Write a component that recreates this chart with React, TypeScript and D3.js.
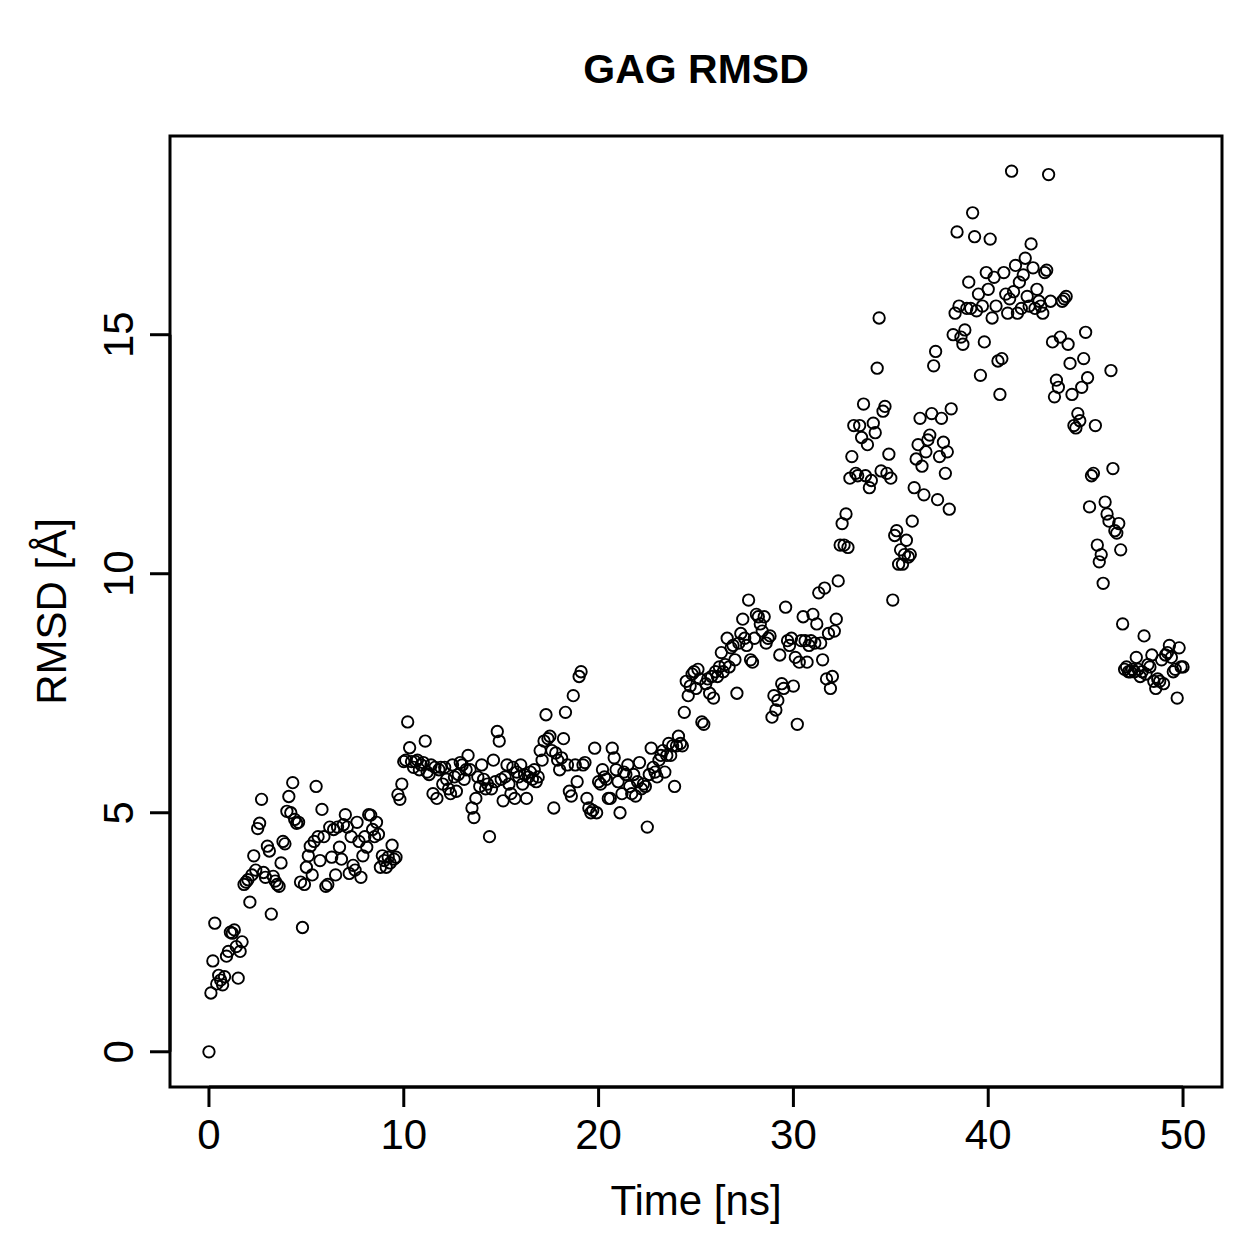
import React, { useEffect, useRef } from 'react';
import { select, scaleLinear, extent } from 'd3';

// RMSD samples, one row per ns (0.1 ns spacing)
const rmsd: number[] = [
    0, 1.23, 1.9, 2.69, 1.42, 1.6, 1.5, 1.4, 1.57, 2.0,
    2.1, 2.5, 2.48, 2.55, 2.2, 1.54, 2.1, 2.3, 3.5, 3.55,
    3.6, 3.13, 3.7, 4.1, 3.8, 4.67, 4.78, 5.28, 3.75, 3.65,
    4.3, 4.2, 2.88, 3.67, 3.57, 3.5, 3.46, 3.95, 4.4, 4.35,
    5.03, 5.34, 5.0, 5.63, 4.86, 4.78, 4.8, 3.55, 2.6, 3.5,
    3.86, 4.1, 4.3, 3.7, 4.4, 5.55, 4.5, 4.0, 5.07, 4.5,
    3.46, 3.5, 4.7, 4.07, 4.65, 3.7, 4.7, 4.28, 4.03, 4.75,
    4.96, 4.7, 3.73, 4.5, 3.9, 3.8, 4.8, 4.4, 3.65, 4.1,
    4.5, 4.28, 4.96, 4.95, 4.65, 4.5, 4.8, 4.55, 3.86, 4.1,
    4.0, 3.86, 4.07, 3.95, 4.32, 4.03, 4.07, 5.38, 5.28, 5.6,
    6.07, 6.1, 6.9, 6.36, 6.07, 5.95, 6.07, 6.1, 5.9, 6.0,
    6.05, 6.5, 5.85, 5.8, 6.0, 5.4, 5.95, 5.3, 5.9, 5.95,
    5.6, 5.95, 5.7, 5.5, 5.4, 6.0, 5.75, 5.45, 5.8, 6.05,
    6.0, 5.7, 5.9, 6.2, 5.9, 5.1, 4.9, 5.3, 5.75, 5.55,
    6.0, 5.7, 5.5, 5.6, 4.5, 5.5, 6.1, 5.65, 6.7, 6.5,
    5.7, 5.25, 5.75, 6.0, 5.6, 5.4, 5.95, 5.3, 5.85, 5.75,
    6.0, 5.6, 5.8, 5.3, 5.75, 5.85, 5.7, 5.9, 5.65, 5.75,
    6.3, 6.1, 6.5, 7.05, 6.55, 6.6, 6.3, 5.1, 6.25, 6.1,
    5.9, 6.15, 6.55, 7.1, 6.0, 5.45, 5.35, 7.45, 6.0, 5.65,
    7.85, 7.95, 6.0, 6.05, 5.3, 5.1, 5.0, 5.05, 6.35, 5.0,
    5.65, 5.6, 5.9, 5.75, 5.7, 5.3, 5.3, 6.35, 6.15, 5.9,
    5.65, 5.0, 5.4, 5.85, 5.8, 6.0, 5.55, 5.4, 5.8, 5.35,
    5.65, 6.05, 5.5, 5.6, 5.55, 4.7, 5.8, 6.35, 5.95, 5.85,
    5.75, 6.1, 6.2, 6.3, 5.85, 6.2, 6.45, 6.2, 6.4, 5.55,
    6.4, 6.6, 6.45, 6.4, 7.1, 7.75, 7.45, 7.65, 7.9, 7.95,
    7.6, 8.0, 7.8, 6.9, 6.85, 7.7, 7.8, 7.5, 7.85, 7.4,
    7.95, 7.85, 8.05, 8.35, 7.95, 8.1, 8.65, 8.05, 8.45, 8.5,
    8.2, 7.5, 8.55, 8.75, 9.05, 8.65, 8.5, 9.45, 8.2, 8.15,
    8.65, 9.15, 9.1, 8.95, 8.8, 9.1, 8.55, 8.65, 8.7, 7.0,
    7.45, 7.15, 7.35, 8.3, 7.7, 7.6, 9.3, 8.6, 8.5, 8.65,
    7.65, 8.25, 6.85, 8.15, 8.6, 9.1, 8.6, 8.15, 8.5, 8.6,
    9.15, 8.55, 8.95, 9.6, 8.55, 8.2, 9.7, 7.8, 8.75, 7.6,
    7.85, 8.8, 9.05, 9.85, 10.6, 11.05, 10.6, 11.25, 10.55, 12.0,
    12.45, 13.1, 12.1, 12.05, 13.1, 12.85, 13.55, 12.05, 12.7, 11.8,
    11.95, 13.15, 12.95, 14.3, 15.35, 12.15, 13.4, 13.5, 12.1, 12.5,
    12.0, 9.45, 10.8, 10.9, 10.2, 10.5, 10.2, 10.4, 10.7, 10.35,
    10.4, 11.1, 11.8, 12.4, 12.7, 13.25, 12.25, 11.65, 12.55, 12.8,
    12.9, 13.35, 14.35, 14.65, 11.55, 12.45, 13.25, 12.75, 12.1, 12.55,
    11.35, 13.45, 15.0, 15.45, 17.15, 15.6, 14.95, 14.8, 15.1, 15.55,
    16.1, 15.55, 17.55, 17.05, 15.5, 15.85, 14.15, 15.6, 14.85, 16.3,
    15.95, 17.0, 15.35, 16.2, 15.6, 14.45, 13.75, 14.5, 16.3, 15.85,
    15.45, 15.75, 18.42, 15.9, 16.45, 15.45, 16.1, 15.55, 16.25, 16.6,
    15.8, 15.6, 16.9, 16.4, 15.55, 15.95, 15.7, 15.6, 15.45, 16.3,
    16.35, 18.35, 15.7, 14.85, 13.7, 14.05, 13.9, 14.95, 15.7, 15.75,
    15.8, 14.8, 14.4, 13.75, 13.1, 13.05, 13.35, 13.2, 13.9, 14.5,
    15.05, 14.1, 11.4, 12.05, 12.1, 13.1, 10.6, 10.25, 10.4, 9.8,
    11.5, 11.25, 11.1, 14.25, 12.2, 10.9, 10.85, 11.05, 10.5, 8.95,
    8.0, 8.05, 7.95, 7.95, 8.0, 7.95, 8.25, 8.0, 7.85, 7.95,
    8.7, 7.9, 8.1, 8.05, 8.3, 7.75, 7.6, 7.8, 7.75, 8.2,
    7.7, 8.3, 8.35, 8.5, 8.25, 7.95, 8.0, 7.4, 8.45, 8.05,
    8.05,
];
const timeStep = 0.1; // ns between frames
const xTicks = [0, 10, 20, 30, 40, 50];
const yTicks = [0, 5, 10, 15];
const title = 'GAG RMSD';
const xLabel = 'Time [ns]';
const yLabel = 'RMSD [Å]';

const W = 1259;
const H = 1259;
const FONT = '"Liberation Sans", Arial, Helvetica, sans-serif';

const App = () => {
    const ref = useRef<SVGSVGElement>(null);

    useEffect(() => {
        const svg = select(ref.current);
        svg.selectAll('*').remove();

        const box = { left: 170, right: 1222, top: 136, bottom: 1087 };
        const data = rmsd.map((v, i) => ({ t: i * timeStep, v }));

        // R style: pad range by 4% on both sides
        const pad = (lo: number, hi: number) => {
            const r = hi - lo;
            return [lo - 0.04 * r, hi + 0.04 * r];
        };
        const [tMin, tMax] = extent(data, d => d.t) as [number, number];
        const [vMin, vMax] = extent(data, d => d.v) as [number, number];

        const x = scaleLinear().domain(pad(tMin, tMax)).range([box.left, box.right]);
        const y = scaleLinear().domain(pad(vMin, vMax)).range([box.bottom, box.top]);

        // points
        svg.append('g')
            .selectAll('circle')
            .data(data)
            .enter()
            .append('circle')
            .attr('cx', d => x(d.t))
            .attr('cy', d => y(d.v))
            .attr('r', 5.7)
            .attr('fill', 'none')
            .attr('stroke', '#000')
            .attr('stroke-width', 1.9);

        // frame
        svg.append('rect')
            .attr('x', box.left)
            .attr('y', box.top)
            .attr('width', box.right - box.left)
            .attr('height', box.bottom - box.top)
            .attr('fill', 'none')
            .attr('stroke', '#000')
            .attr('stroke-width', 3);

        // x axis
        const gx = svg.append('g');
        gx.append('line')
            .attr('x1', x(xTicks[0])).attr('x2', x(xTicks[xTicks.length - 1]))
            .attr('y1', box.bottom).attr('y2', box.bottom)
            .attr('stroke', '#000').attr('stroke-width', 3);
        gx.selectAll('.tick')
            .data(xTicks)
            .enter()
            .append('line')
            .attr('x1', d => x(d)).attr('x2', d => x(d))
            .attr('y1', box.bottom).attr('y2', box.bottom + 20)
            .attr('stroke', '#000').attr('stroke-width', 3);
        gx.selectAll('text')
            .data(xTicks)
            .enter()
            .append('text')
            .attr('x', d => x(d))
            .attr('y', 1149)
            .attr('text-anchor', 'middle')
            .attr('font-family', FONT)
            .attr('font-size', 42)
            .text(d => d);

        // y axis
        const gy = svg.append('g');
        gy.append('line')
            .attr('x1', box.left).attr('x2', box.left)
            .attr('y1', y(yTicks[0])).attr('y2', y(yTicks[yTicks.length - 1]))
            .attr('stroke', '#000').attr('stroke-width', 3);
        gy.selectAll('.tick')
            .data(yTicks)
            .enter()
            .append('line')
            .attr('x1', box.left - 20).attr('x2', box.left)
            .attr('y1', d => y(d)).attr('y2', d => y(d))
            .attr('stroke', '#000').attr('stroke-width', 3);
        gy.selectAll('text')
            .data(yTicks)
            .enter()
            .append('text')
            .attr('transform', d => `translate(133, ${y(d)}) rotate(-90)`)
            .attr('text-anchor', 'middle')
            .attr('font-family', FONT)
            .attr('font-size', 42)
            .text(d => d);

        // titles
        svg.append('text')
            .attr('x', (box.left + box.right) / 2)
            .attr('y', 83)
            .attr('text-anchor', 'middle')
            .attr('font-family', FONT)
            .attr('font-weight', 'bold')
            .attr('font-size', 41)
            .text(title);
        svg.append('text')
            .attr('x', (box.left + box.right) / 2)
            .attr('y', 1215)
            .attr('text-anchor', 'middle')
            .attr('font-family', FONT)
            .attr('font-size', 42)
            .text(xLabel);
        svg.append('text')
            .attr('transform', `translate(66, ${(box.top + box.bottom) / 2}) rotate(-90)`)
            .attr('text-anchor', 'middle')
            .attr('font-family', FONT)
            .attr('font-size', 42)
            .text(yLabel);
    }, []);

    return (
        <svg
            ref={ref}
            width={W}
            height={H}
            style={{ position: 'absolute', left: 0, top: 0, background: '#fff' }}
        />
    );
};

export default App;
